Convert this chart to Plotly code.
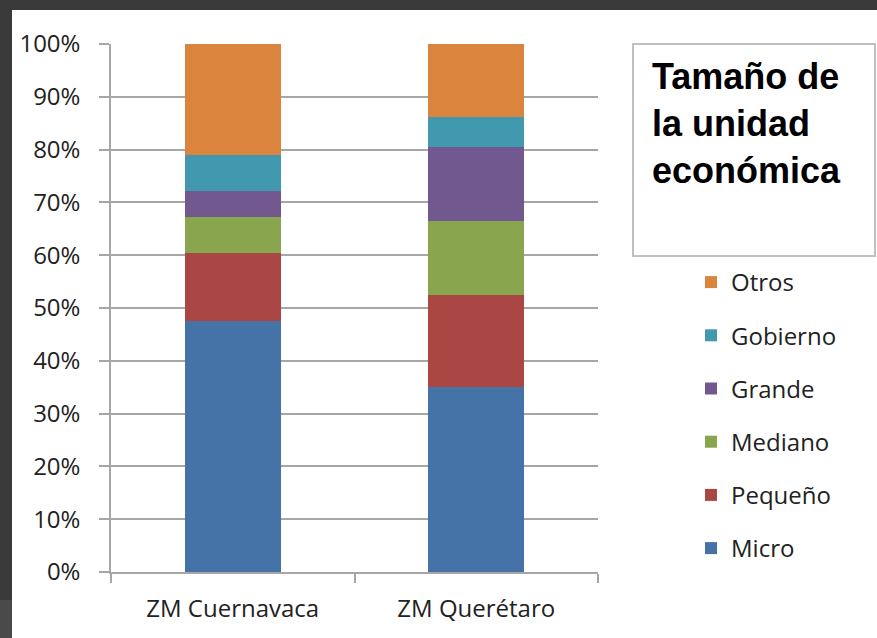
import plotly.graph_objects as go

zonas = ['ZM Cuernavaca', 'ZM Querétaro']

# shares (fraction of 1), bottom to top
micro = [0.476, 0.351]
pequeno = [0.129, 0.174]
mediano = [0.067, 0.140]
grande = [0.049, 0.140]
gobierno = [0.068, 0.057]
otros = [0.211, 0.138]

series = [
    ('Micro', micro, '#4572A7'),
    ('Pequeño', pequeno, '#AA4643'),
    ('Mediano', mediano, '#89A54E'),
    ('Grande', grande, '#71588F'),
    ('Gobierno', gobierno, '#4198AF'),
    ('Otros', otros, '#DB843D'),
]

fig = go.Figure()
for i, (name, vals, color) in enumerate(series):
    fig.add_trace(go.Bar(
        x=zonas,
        y=vals,
        name=name,
        legendgroup=name,
        legendrank=len(series) - i,  # legend lists Otros first
        marker_color=color,
        marker_line_width=0,
    ))

# pixel layout helpers (plot area 111..598 x 44..572)
L, R, T, B = 111, 598, 44, 572
def px(x):
    return (x - L) / (R - L)
def py(y):
    return (B - y) / (B - T)

tick_font = dict(family='Open Sans', size=24, color='#222222')

fig.update_layout(
    width=877,
    height=638,
    barmode='stack',
    bargap=0.606,
    paper_bgcolor='white',
    plot_bgcolor='white',
    margin=dict(l=L, r=877 - R, t=T, b=638 - B, pad=0),
    showlegend=True,
    legend=dict(
        traceorder='grouped',
        tracegroupgap=19,
        x=px(691), y=py(260),
        xanchor='left', yanchor='top',
        font=dict(family='Open Sans', size=24, color='#222222'),
        bgcolor='rgba(0,0,0,0)',
    ),
    shapes=[
        # dark frame of the screenshot
        dict(type='rect', xref='paper', yref='paper', x0=px(0), x1=px(877),
             y0=py(10), y1=py(0), fillcolor='#3a3a3a', line_width=0),
        dict(type='rect', xref='paper', yref='paper', x0=px(0), x1=px(12),
             y0=py(638), y1=py(0), fillcolor='#3a3a3a', line_width=0),
        dict(type='rect', xref='paper', yref='paper', x0=px(0), x1=px(12),
             y0=py(638), y1=py(600), fillcolor='#4a4a4a', line_width=0),
        # title box
        dict(type='rect', xref='paper', yref='paper', x0=px(633), x1=px(875),
             y0=py(256), y1=py(44), line=dict(color='#bfbfbf', width=2)),
    ],
    annotations=[
        dict(text='<b>Tamaño de<br>la unidad<br>económica</b>',
             xref='paper', yref='paper', x=px(650), y=py(54),
             xanchor='left', yanchor='top', align='left', showarrow=False,
             font=dict(family='Liberation Sans', size=36, color='black')),
    ],
)

fig.update_yaxes(
    range=[0, 1],
    tickvals=[i / 10 for i in range(11)],
    tickformat='.0%',
    showgrid=True, gridcolor='#a6a6a6', gridwidth=1.5,
    showline=True, linecolor='#a6a6a6', linewidth=1.5,
    ticks='outside', ticklen=10, tickcolor='#a6a6a6', tickwidth=1.5,
    ticklabelstandoff=14,
    tickfont=tick_font,
    zeroline=False,
)
fig.update_xaxes(
    showline=True, linecolor='#a6a6a6', linewidth=1.5,
    ticks='outside', tickson='boundaries', ticklen=9,
    tickcolor='#a6a6a6', tickwidth=1.5,
    ticklabelstandoff=14,
    tickfont=tick_font,
    showgrid=False,
)

fig.write_html('out.html', config={'displayModeBar': False},
               post_script="document.body.style.margin='0';")
